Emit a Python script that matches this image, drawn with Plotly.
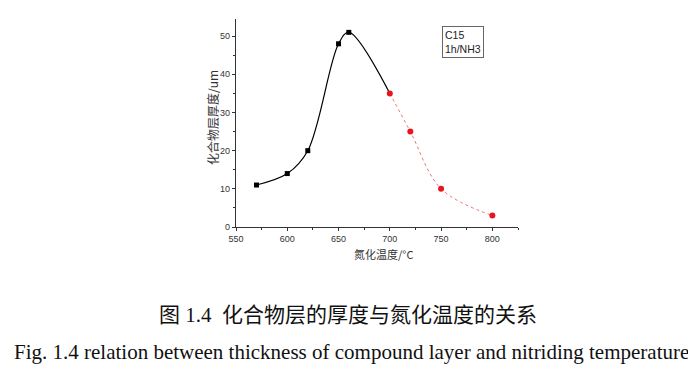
import plotly.graph_objects as go

# Data
black_x = [570, 600, 620, 650, 660]
black_y = [11, 14, 20, 48, 51]
red_x = [700, 720, 750, 800]
red_y = [35, 25, 10, 3]
x_ticks = [550, 600, 650, 700, 750, 800]
y_ticks = [0, 10, 20, 30, 40, 50]
legend_lines = ["C15", "1h/NH3"]
x_title = "氮化温度/°C"
y_title = "化合物层厚度/um"
caption_cn = "图 1.4  化合物层的厚度与氮化温度的关系"
caption_en = "Fig. 1.4 relation between thickness of compound layer and nitriding temperature"

fig = go.Figure()

# black smooth curve continuing to the first red point
fig.add_trace(go.Scatter(
    x=black_x + red_x[:1], y=black_y + red_y[:1], mode="lines",
    line=dict(color="black", width=1.2, shape="spline", smoothing=1.0),
    hoverinfo="skip", showlegend=False))
fig.add_trace(go.Scatter(
    x=black_x, y=black_y, mode="markers",
    marker=dict(symbol="square", color="black", size=5),
    showlegend=False))
fig.add_trace(go.Scatter(
    x=red_x, y=red_y, mode="lines+markers",
    line=dict(color="#e85050", width=0.8, dash="dot", shape="spline", smoothing=1.0),
    marker=dict(symbol="circle", color="#e8141e", size=6),
    showlegend=False))

axis_common = dict(
    showgrid=False, zeroline=False, showline=True, linecolor="#333", linewidth=1.2,
    ticks="outside", ticklen=3, tickcolor="#333", tickwidth=1,
    tickfont=dict(family="Liberation Sans, Arial", size=9, color="#333"),
    mirror=False,
)

fig.update_xaxes(range=[550, 825], tickvals=x_ticks, **axis_common,
                 minor=dict(ticks="outside", ticklen=2, dtick=25, tickcolor="#333"))
fig.update_yaxes(range=[0, 54.5], tickvals=y_ticks, **axis_common,
                 minor=dict(ticks="outside", ticklen=2, dtick=5, tickcolor="#333"))

PL, PB, PW, PH = 236, 227, 282, 208  # plot-area position in screenshot pixels


def px(xp):
    return (xp - PL) / PW


def py(yp):
    return (PB - yp) / PH


annotations = [
    dict(x=px(383), y=py(254), xref="paper", yref="paper", text=x_title, showarrow=False,
         font=dict(family="Noto Sans CJK SC", size=11, color="#333"),
         xanchor="center", yanchor="middle"),
    dict(x=px(212), y=py(118), xref="paper", yref="paper", text=y_title, showarrow=False,
         textangle=-90, font=dict(family="Noto Sans CJK SC", size=12, color="#333"),
         xanchor="center", yanchor="middle"),
    dict(x=751, y=52.6, xref="x", yref="y", text="<br>".join(legend_lines), showarrow=False,
         align="left", xanchor="left", yanchor="top",
         bordercolor="#666", borderwidth=1, borderpad=2, bgcolor="white",
         font=dict(family="Liberation Sans, Arial", size=10.5, color="#222")),
    dict(x=px(348), y=py(315), xref="paper", yref="paper",
         text=caption_cn, showarrow=False, xanchor="center", yanchor="middle",
         font=dict(family="Liberation Serif, Noto Sans CJK SC", size=21, color="#111")),
    dict(x=px(351), y=py(352), xref="paper", yref="paper",
         text=caption_en, showarrow=False, xanchor="center", yanchor="middle",
         font=dict(family="Liberation Serif", size=21, color="#111")),
]

fig.update_layout(
    width=688, height=370,
    margin=dict(l=PL - 8, r=688 - (PL - 8) - PW, t=(PB - PH) - 8, b=370 - (PB - 8)),
    paper_bgcolor="white", plot_bgcolor="white",
    annotations=annotations,
)

fig.write_html("out.html")
